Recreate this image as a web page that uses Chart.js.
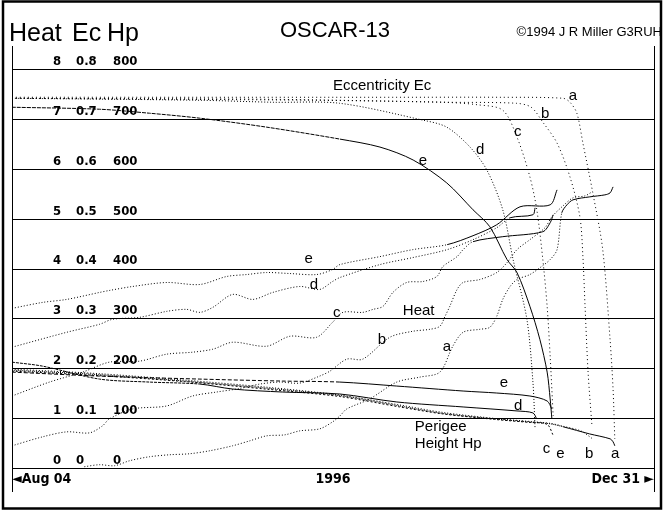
<!DOCTYPE html>
<html>
<head>
<meta charset="utf-8">
<script src="https://cdn.jsdelivr.net/npm/chart.js@4.4.1/dist/chart.umd.min.js"></script>
<style>
  html, body { margin: 0; padding: 0; background: #fff; }
  #wrap { width: 669px; height: 516px; position: relative; }
</style>
</head>
<body>
<div id="wrap"><canvas id="c"></canvas></div>
<script>
// x = days after Aug 04 1996 (Dec 31 = 149), y = Heat units (Ec x10, Hp /100 km)
const xTickDays = [0, 74.5, 149];
const xTickLabels = ['◄Aug 04', '1996', 'Dec 31 ►'];
const yTickValues = [0, 1, 2, 3, 4, 5, 6, 7, 8];

// Eccentricity (plotted as Ec x 10)
const ecA = [[0,7.45],[44,7.45],[90,7.45],[113,7.45],[127.9,7.43],[129.5,7.35],[131.1,7.13],[132.5,6.53],[134.8,5.53],[137.1,4.39],[138.8,2.59],[139.5,1.59],[139.9,0.59]];
const ecB = [[0,7.43],[60,7.41],[101,7.35],[117,7.33],[120.5,7.25],[123.2,6.95],[126.5,6.53],[129.5,5.85],[131.8,5.05],[132.5,4.25],[133,3.25],[133.7,1.93],[134.6,0.85]];
const ecC = [[0,7.43],[70,7.39],[100,7.35],[108,7.3],[113.9,7.19],[117.2,6.65],[120.2,5.85],[121.8,5.19],[123.2,4.19],[124.2,3.25],[124.9,2.25],[125.6,1.05]];
const ecD = [[0,7.43],[43.6,7.39],[60.5,7.35],[76,7.33],[95.4,6.99],[100.9,6.85],[106.3,6.45],[110.2,5.99],[113.9,5.19],[116.3,4.19],[119.5,2.99],[120.9,1.73],[121.4,0.79]];
const ecE = [[0,7.25],[20.3,7.21],[31.9,7.13],[43.6,7.03],[59.1,6.85],[76.1,6.61],[85.4,6.45],[93.1,6.19],[100.9,5.73],[107,5.19],[110.9,4.85],[114.9,4.19],[117.2,3.93],[120.2,3.25],[122.5,2.59],[124.2,1.93],[124.9,1.39],[125.3,0.99]];

// Heat
const heatA = [[16.8,0.03],[20.3,0.07],[23.8,0.05],[27.3,0.15],[31.9,0.23],[36.6,0.27],[41.2,0.29],[45.9,0.35],[51.2,0.45],[55.2,0.55],[59.1,0.65],[63.3,0.67],[66.8,0.75],[71.4,0.79],[74.4,0.93],[76.1,1.05],[77.7,1.19],[83,1.39],[89.3,1.73],[94.7,1.83],[99.3,1.93],[102.3,2.45],[104.7,2.73],[108.6,2.79],[110.9,2.83],[112.5,3.05],[113.9,3.39],[115.6,3.65],[117.2,3.79],[120.2,3.89],[123.2,4.07],[124.9,4.19],[126.5,4.39],[127.6,5.13],[128.8,5.29],[130.2,5.39],[134.1,5.45],[137.6,5.49],[138.8,5.53],[139.5,5.65]];
const heatB = [[0,0.45],[7.1,0.63],[12.7,0.73],[18,0.71],[21,0.85],[22.6,0.99],[28,1.19],[35.9,1.25],[41.9,1.45],[47.5,1.53],[52.8,1.6],[57.5,1.69],[62.1,1.73],[66.8,1.71],[71.4,1.85],[73.8,1.95],[77.7,2.19],[81.4,2.19],[87.7,2.63],[93,2.75],[97,2.79],[99.3,2.85],[100.5,3.05],[101.6,3.25],[103.3,3.59],[104.7,3.73],[108.6,3.79],[112.5,3.93],[114.9,4.13],[117.2,4.39],[120.2,4.59],[123.7,4.83],[125.3,5.05],[127.9,5.27],[130.2,5.43],[133,5.47],[134.6,5.55]];
const heatC = [[0,1.45],[8.7,1.73],[16.4,1.93],[22.6,2.13],[29.6,2.15],[35.9,2.29],[41.9,2.33],[46.6,2.39],[51.2,2.53],[59.1,2.45],[64.5,2.65],[70.7,2.63],[74.4,2.93],[76.8,3.13],[81.4,3.13],[83.8,3.19],[86.1,3.25],[88.4,3.53],[91.6,3.73],[95.4,3.75],[98.6,3.85],[100,4.05],[103.3,4.25],[104.7,4.39],[107,4.55],[113.9,4.65],[123.2,4.75],[124.9,4.93],[125.6,5.09]];
const heatD = [[0,2.43],[12.7,2.73],[20.3,2.89],[23.3,2.99],[29.6,3.03],[35.9,3.15],[40.5,3.19],[43.6,3.13],[46.6,3.23],[51.2,3.49],[55.9,3.39],[60.5,3.53],[66.8,3.65],[71.4,3.59],[74.4,3.75],[76.1,3.83],[85.4,4.09],[93,4.23],[101,4.39],[107,4.59],[112.5,4.83],[115.6,5.03],[120.9,5.09],[121.4,5.23]];
const heatE = [[0,3.21],[7.1,3.33],[12.7,3.39],[20.3,3.53],[22.6,3.57],[28,3.65],[35.9,3.73],[43.6,3.69],[49.8,3.85],[54.5,3.89],[59.1,3.93],[64.5,3.91],[70.7,3.89],[74.4,3.99],[76.1,4.09],[85.4,4.25],[93,4.39],[101,4.49],[107,4.67],[112.5,4.89],[117.9,5.25],[124.9,5.29],[126.5,5.59]];

// Perigee height (plotted as Hp / 100 km)
const hpA = [[0,1.97],[20,1.88],[40,1.75],[60,1.6],[76,1.46],[90,1.25],[100,1.1],[112,0.99],[120,0.93],[125,0.89],[128,0.83],[134,0.69],[138.8,0.59],[139.5,0.53],[139.9,0.45]];
const hpB = [[0,1.99],[20,1.9],[40,1.77],[60,1.62],[76,1.47],[90,1.27],[100,1.12],[112,1.0],[120,0.94],[125,0.9],[128,0.84],[132,0.75],[134.6,0.6]];
const hpC = [[0,1.95],[20,1.86],[40,1.74],[60,1.58],[76,1.44],[90,1.23],[100,1.09],[112,0.98],[120,0.92],[124.2,0.88],[125.6,0.66]];
const hpD = [[0,2.13],[7.1,2.05],[20.3,1.79],[31.9,1.73],[43.6,1.69],[51.2,1.59],[62.8,1.53],[76.1,1.49],[89.3,1.33],[104.7,1.23],[117.2,1.15],[120.9,1.11],[121.8,0.99]];
const hpE = [[0,1.93],[20.3,1.85],[43.6,1.79],[62.8,1.75],[76.1,1.73],[89.3,1.65],[104.7,1.55],[112.5,1.51],[120.2,1.45],[124.2,1.35],[125.3,1.19]];

// Text notes inside the plot (day, value at baseline)
const notes = [
  ['Eccentricity Ec', 74.5, 7.59], ['a', 129.2, 7.39], ['b', 122.8, 7.04], ['c', 116.5, 6.68],
  ['d', 107.7, 6.31], ['e', 94.4, 6.09],
  ['e', 67.9, 4.13], ['d', 69.1, 3.59], ['c', 74.5, 3.03],
  ['Heat', 90.7, 3.07], ['b', 84.9, 2.49], ['a', 100.0, 2.35],
  ['e', 113.2, 1.63], ['d', 116.5, 1.17],
  ['Perigee', 93.5, 0.74], ['Height Hp', 93.5, 0.41],
  ['c', 123.2, 0.31], ['e', 126.3, 0.21], ['b', 133.0, 0.21], ['a', 139.0, 0.21],
];

const labelFont = '"Liberation Sans Narrow", "DejaVu Sans Condensed", "DejaVu Sans Mono", monospace';
const sans = '"Liberation Sans", Arial, Helvetica, sans-serif';

const framePlugin = {
  id: 'frame',
  beforeDraw(chart) {
    const { ctx } = chart;
    ctx.save();
    ctx.fillStyle = '#fff';
    ctx.fillRect(0, 0, chart.width, chart.height);
    ctx.restore();
  },
  afterDraw(chart) {
    const { ctx, chartArea } = chart;
    ctx.save();
    ctx.strokeStyle = '#000';
    // outer border
    ctx.lineWidth = 2.5;
    ctx.strokeRect(3, 1.5, 658, 507);
    // inner side rules
    ctx.lineWidth = 1;
    ctx.beginPath();
    ctx.moveTo(Math.round(chartArea.left) + 0.5, 46);
    ctx.lineTo(Math.round(chartArea.left) + 0.5, 492);
    ctx.moveTo(Math.round(chartArea.right) + 0.5, 46);
    ctx.lineTo(Math.round(chartArea.right) + 0.5, 492);
    ctx.stroke();
    // headings
    ctx.fillStyle = '#000';
    ctx.textBaseline = 'alphabetic';
    ctx.font = '25px ' + sans;
    ctx.textAlign = 'left';
    ctx.fillText('Heat', 9, 41);
    ctx.fillText('Ec', 72, 41);
    ctx.fillText('Hp', 107, 41);
    ctx.font = '22px ' + sans;
    ctx.textAlign = 'center';
    ctx.fillText('OSCAR-13', 335, 37);
    ctx.font = '13px ' + sans;
    ctx.textAlign = 'right';
    ctx.fillText('©1994 J R Miller G3RUH', 662, 36);
    ctx.restore();
  },
};

const notesPlugin = {
  id: 'notes',
  afterDatasetsDraw(chart) {
    const { ctx, scales } = chart;
    ctx.save();
    ctx.fillStyle = '#000';
    ctx.font = '15px ' + sans;
    ctx.textBaseline = 'alphabetic';
    ctx.textAlign = 'left';
    notes.forEach(([t, d, v]) => {
      ctx.fillText(t, scales.x.getPixelForValue(d), scales.y.getPixelForValue(v));
    });
    ctx.restore();
  },
};

const toPts = arr => arr.map(([x, y]) => ({ x, y }));
// dotted/dashed line that turns solid from day `solidFrom` on
const line = (data, dash, solidFrom) => ({
  data: toPts(data),
  borderColor: '#000',
  borderWidth: 1,
  borderDash: dash,
  segment: solidFrom == null ? undefined : {
    borderDash: c => (c.p0.parsed.x >= solidFrom ? [] : dash),
  },
  pointRadius: 0,
  tension: 0.3,
  fill: false,
});

const yAxis = (padding, fmt, grid) => ({
  type: 'linear',
  position: 'left',
  min: 0,
  max: 8.5,
  afterBuildTicks: s => { s.ticks = yTickValues.map(v => ({ value: v })); },
  afterFit: s => { s.width = 0; s.paddingTop = 0; s.paddingBottom = 0; },
  border: { display: false },
  grid: grid
    ? { display: true, drawTicks: false, tickLength: 0, color: '#000', lineWidth: 1 }
    : { display: false, drawTicks: false, tickLength: 0 },
  ticks: {
    mirror: true,
    padding,
    labelOffset: -8,
    color: '#000',
    font: { family: labelFont, size: 13, weight: 'bold' },
    callback: fmt,
  },
});

new Chart(document.getElementById('c'), {
  type: 'line',
  data: {
    datasets: [
      line(ecA, [1, 3]), line(ecB, [1, 3]), line(ecC, [1, 3]), line(ecD, [1, 2]), line(ecE, [4, 1], 72),
      line(heatA, [1, 2], 127), line(heatB, [1, 2]), line(heatC, [1, 2], 107), line(heatD, [1, 2], 114), line(heatE, [1, 2], 98),
      line(hpA, [1, 1], 128), line(hpB, [1, 2]), line(hpC, [2, 2]), line(hpD, [3, 1], 40), line(hpE, [4, 2], 76),
    ],
  },
  options: {
    responsive: true,
    maintainAspectRatio: false,
    animation: false,
    devicePixelRatio: 1,
    layout: { padding: { left: 12, right: 15, top: 45, bottom: 25 } },
    plugins: { legend: { display: false }, tooltip: { enabled: false }, title: { display: false } },
    scales: {
      x: {
        type: 'linear',
        min: 0,
        max: 149,
        afterBuildTicks: s => { s.ticks = xTickDays.map(v => ({ value: v })); },
        afterFit: s => { s.paddingLeft = 0; s.paddingRight = 0; },
        border: { display: false },
        grid: { display: false, drawTicks: false, tickLength: 0 },
        ticks: {
          align: 'inner',
          padding: 3,
          maxRotation: 0,
          autoSkip: false,
          color: '#000',
          font: { family: labelFont, size: 14, weight: 'bold' },
          callback: (v, i) => xTickLabels[i],
        },
      },
      y: yAxis(41, v => String(v), true),
      yEc: yAxis(64, v => (v === 0 ? '0' : (v / 10).toFixed(1))),
      yHp: yAxis(101, v => String(v * 100)),
    },
  },
  plugins: [framePlugin, notesPlugin],
});
</script>
</body>
</html>
